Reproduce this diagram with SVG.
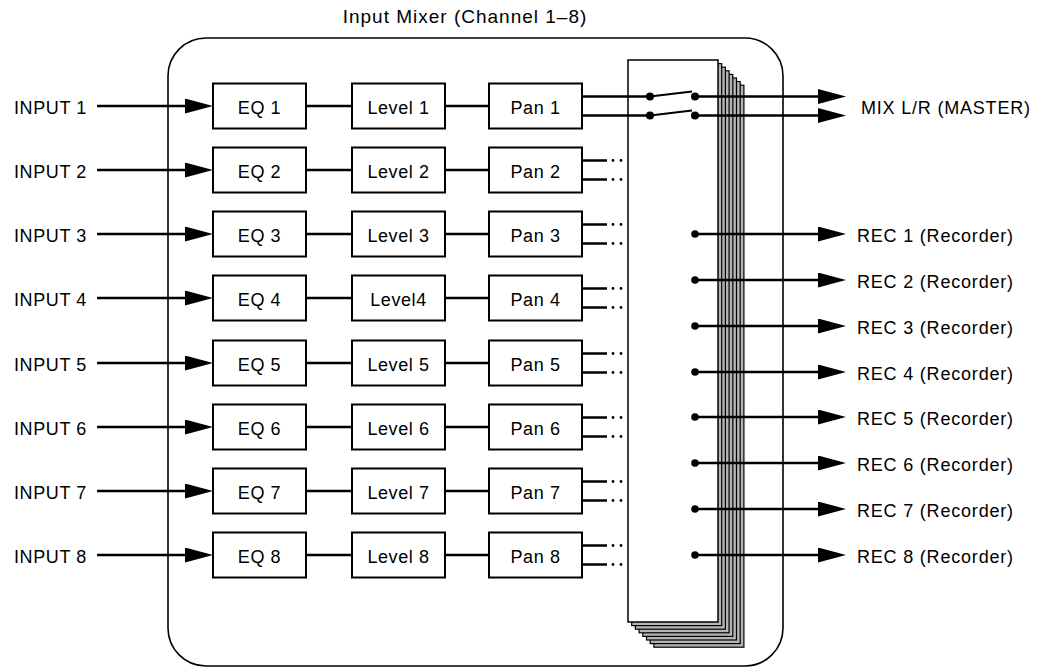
<svg xmlns="http://www.w3.org/2000/svg" width="1039" height="668" viewBox="0 0 1039 668">
<style>
text{font-family:"Liberation Sans",Arial,Helvetica,sans-serif;font-size:18px;fill:#000;letter-spacing:0.6px}
.ttl{font-size:19px;letter-spacing:1px;text-anchor:middle}
.out{letter-spacing:0.8px}
.c{text-anchor:middle}
.box{fill:#fff;stroke:#000;stroke-width:2}
.frame{fill:none;stroke:#000;stroke-width:1.6}
.page{fill:#b4b4b4;stroke:#000;stroke-width:1.2}
.front{fill:#fff;stroke:#000;stroke-width:1.5}
.ln{stroke:#000;stroke-width:2.5;fill:none}
.lt{stroke:#000;stroke-width:2;fill:none}
.arr{stroke:#000;stroke-width:2.5;fill:none;marker-end:url(#ah)}
.dot{fill:#000}
</style>
<defs>
<marker id="ah" markerUnits="userSpaceOnUse" viewBox="0 0 28 15" markerWidth="28" markerHeight="15" refX="15" refY="7.5" orient="auto">
<path d="M0,0 L28,7.5 L0,15 Z" fill="#000"/>
</marker>
</defs>
<text class="ttl" x="465" y="23">Input Mixer (Channel 1–8)</text>
<rect id="mixer-frame" class="frame" x="168" y="38" width="615" height="628" rx="38" ry="38"/>
<g id="bus">
<rect class="page" x="653.9" y="85.2" width="90" height="562"/>
<rect class="page" x="650.2" y="81.6" width="90" height="562"/>
<rect class="page" x="646.5" y="78" width="90" height="562"/>
<rect class="page" x="642.8" y="74.4" width="90" height="562"/>
<rect class="page" x="639.1" y="70.8" width="90" height="562"/>
<rect class="page" x="635.4" y="67.2" width="90" height="562"/>
<rect class="page" x="631.7" y="63.6" width="90" height="562"/>
<rect class="front" x="628" y="60" width="90" height="562"/>
</g>
<g id="inputs">
<text x="14" y="114">INPUT 1</text>
<text x="14" y="178">INPUT 2</text>
<text x="14" y="242">INPUT 3</text>
<text x="14" y="306">INPUT 4</text>
<text x="14" y="371">INPUT 5</text>
<text x="14" y="435">INPUT 6</text>
<text x="14" y="499">INPUT 7</text>
<text x="14" y="563">INPUT 8</text>
</g>
<g id="eq1"><rect class="box" x="213" y="83.5" width="93" height="45"/><text class="c" x="259.5" y="114">EQ 1</text></g>
<g id="eq2"><rect class="box" x="213" y="147.5" width="93" height="45"/><text class="c" x="259.5" y="178">EQ 2</text></g>
<g id="eq3"><rect class="box" x="213" y="211.5" width="93" height="45"/><text class="c" x="259.5" y="242">EQ 3</text></g>
<g id="eq4"><rect class="box" x="213" y="275.5" width="93" height="45"/><text class="c" x="259.5" y="306">EQ 4</text></g>
<g id="eq5"><rect class="box" x="213" y="340.5" width="93" height="45"/><text class="c" x="259.5" y="371">EQ 5</text></g>
<g id="eq6"><rect class="box" x="213" y="404.5" width="93" height="45"/><text class="c" x="259.5" y="435">EQ 6</text></g>
<g id="eq7"><rect class="box" x="213" y="468.5" width="93" height="45"/><text class="c" x="259.5" y="499">EQ 7</text></g>
<g id="eq8"><rect class="box" x="213" y="532.5" width="93" height="45"/><text class="c" x="259.5" y="563">EQ 8</text></g>
<g id="level1"><rect class="box" x="352" y="83.5" width="93" height="45"/><text class="c" x="398.5" y="114">Level 1</text></g>
<g id="level2"><rect class="box" x="352" y="147.5" width="93" height="45"/><text class="c" x="398.5" y="178">Level 2</text></g>
<g id="level3"><rect class="box" x="352" y="211.5" width="93" height="45"/><text class="c" x="398.5" y="242">Level 3</text></g>
<g id="level4"><rect class="box" x="352" y="275.5" width="93" height="45"/><text class="c" x="398.5" y="306">Level4</text></g>
<g id="level5"><rect class="box" x="352" y="340.5" width="93" height="45"/><text class="c" x="398.5" y="371">Level 5</text></g>
<g id="level6"><rect class="box" x="352" y="404.5" width="93" height="45"/><text class="c" x="398.5" y="435">Level 6</text></g>
<g id="level7"><rect class="box" x="352" y="468.5" width="93" height="45"/><text class="c" x="398.5" y="499">Level 7</text></g>
<g id="level8"><rect class="box" x="352" y="532.5" width="93" height="45"/><text class="c" x="398.5" y="563">Level 8</text></g>
<g id="pan1"><rect class="box" x="489" y="83.5" width="93" height="45"/><text class="c" x="535.5" y="114">Pan 1</text></g>
<g id="pan2"><rect class="box" x="489" y="147.5" width="93" height="45"/><text class="c" x="535.5" y="178">Pan 2</text></g>
<g id="pan3"><rect class="box" x="489" y="211.5" width="93" height="45"/><text class="c" x="535.5" y="242">Pan 3</text></g>
<g id="pan4"><rect class="box" x="489" y="275.5" width="93" height="45"/><text class="c" x="535.5" y="306">Pan 4</text></g>
<g id="pan5"><rect class="box" x="489" y="340.5" width="93" height="45"/><text class="c" x="535.5" y="371">Pan 5</text></g>
<g id="pan6"><rect class="box" x="489" y="404.5" width="93" height="45"/><text class="c" x="535.5" y="435">Pan 6</text></g>
<g id="pan7"><rect class="box" x="489" y="468.5" width="93" height="45"/><text class="c" x="535.5" y="499">Pan 7</text></g>
<g id="pan8"><rect class="box" x="489" y="532.5" width="93" height="45"/><text class="c" x="535.5" y="563">Pan 8</text></g>
<g id="outputs">
<text class="out" x="861" y="114">MIX L/R (MASTER)</text>
<text class="out" x="857" y="241.5">REC 1 (Recorder)</text>
<text class="out" x="857" y="287.5">REC 2 (Recorder)</text>
<text class="out" x="857" y="333.5">REC 3 (Recorder)</text>
<text class="out" x="857" y="379.5">REC 4 (Recorder)</text>
<text class="out" x="857" y="424.5">REC 5 (Recorder)</text>
<text class="out" x="857" y="470.5">REC 6 (Recorder)</text>
<text class="out" x="857" y="516.5">REC 7 (Recorder)</text>
<text class="out" x="857" y="562.5">REC 8 (Recorder)</text>
</g>
<g id="connectors">
<line class="arr" x1="97" y1="106" x2="200" y2="106"/>
<line class="arr" x1="97" y1="170" x2="200" y2="170"/>
<line class="arr" x1="97" y1="234" x2="200" y2="234"/>
<line class="arr" x1="97" y1="298" x2="200" y2="298"/>
<line class="arr" x1="97" y1="363" x2="200" y2="363"/>
<line class="arr" x1="97" y1="427" x2="200" y2="427"/>
<line class="arr" x1="97" y1="491" x2="200" y2="491"/>
<line class="arr" x1="97" y1="555" x2="200" y2="555"/>
<path class="ln" d="M306,106H352M445,106H489M306,170H352M445,170H489M306,234H352M445,234H489M306,298H352M445,298H489M306,363H352M445,363H489M306,427H352M445,427H489M306,491H352M445,491H489M306,555H352M445,555H489"/>
<path class="ln" d="M582,160.5H607M582,179.5H607M582,224.5H607M582,243.5H607M582,288.5H607M582,307.5H607M582,353.5H607M582,372.5H607M582,417.5H607M582,436.5H607M582,481.5H607M582,500.5H607M582,545.5H607M582,564.5H607"/>
<g class="dot">
<circle cx="613" cy="160.5" r="1.4"/><circle cx="621" cy="160.5" r="1.4"/><circle cx="613" cy="179.5" r="1.4"/><circle cx="621" cy="179.5" r="1.4"/>
<circle cx="613" cy="224.5" r="1.4"/><circle cx="621" cy="224.5" r="1.4"/><circle cx="613" cy="243.5" r="1.4"/><circle cx="621" cy="243.5" r="1.4"/>
<circle cx="613" cy="288.5" r="1.4"/><circle cx="621" cy="288.5" r="1.4"/><circle cx="613" cy="307.5" r="1.4"/><circle cx="621" cy="307.5" r="1.4"/>
<circle cx="613" cy="353.5" r="1.4"/><circle cx="621" cy="353.5" r="1.4"/><circle cx="613" cy="372.5" r="1.4"/><circle cx="621" cy="372.5" r="1.4"/>
<circle cx="613" cy="417.5" r="1.4"/><circle cx="621" cy="417.5" r="1.4"/><circle cx="613" cy="436.5" r="1.4"/><circle cx="621" cy="436.5" r="1.4"/>
<circle cx="613" cy="481.5" r="1.4"/><circle cx="621" cy="481.5" r="1.4"/><circle cx="613" cy="500.5" r="1.4"/><circle cx="621" cy="500.5" r="1.4"/>
<circle cx="613" cy="545.5" r="1.4"/><circle cx="621" cy="545.5" r="1.4"/><circle cx="613" cy="564.5" r="1.4"/><circle cx="621" cy="564.5" r="1.4"/>
</g>
<path class="ln" d="M582,96.5H650M582,115.5H650"/>
<path class="lt" d="M650,96.5L692,91.5M650,115.5L692,110.5"/>
<circle class="dot" cx="650" cy="96.5" r="4"/>
<circle class="dot" cx="650" cy="115.5" r="4"/>
<circle class="dot" cx="695" cy="96.5" r="4"/>
<circle class="dot" cx="695" cy="115.5" r="4"/>
<line class="arr" x1="695" y1="96.5" x2="833" y2="96.5"/>
<line class="arr" x1="695" y1="115.5" x2="833" y2="115.5"/>
<line class="arr" x1="695" y1="234" x2="833" y2="234"/>
<line class="arr" x1="695" y1="280" x2="833" y2="280"/>
<line class="arr" x1="695" y1="326" x2="833" y2="326"/>
<line class="arr" x1="695" y1="372" x2="833" y2="372"/>
<line class="arr" x1="695" y1="417" x2="833" y2="417"/>
<line class="arr" x1="695" y1="463" x2="833" y2="463"/>
<line class="arr" x1="695" y1="509" x2="833" y2="509"/>
<line class="arr" x1="695" y1="555" x2="833" y2="555"/>
<g class="dot">
<circle cx="695" cy="234" r="3.8"/><circle cx="695" cy="280" r="3.8"/><circle cx="695" cy="326" r="3.8"/><circle cx="695" cy="372" r="3.8"/>
<circle cx="695" cy="417" r="3.8"/><circle cx="695" cy="463" r="3.8"/><circle cx="695" cy="509" r="3.8"/><circle cx="695" cy="555" r="3.8"/>
</g>
</g>
</svg>
